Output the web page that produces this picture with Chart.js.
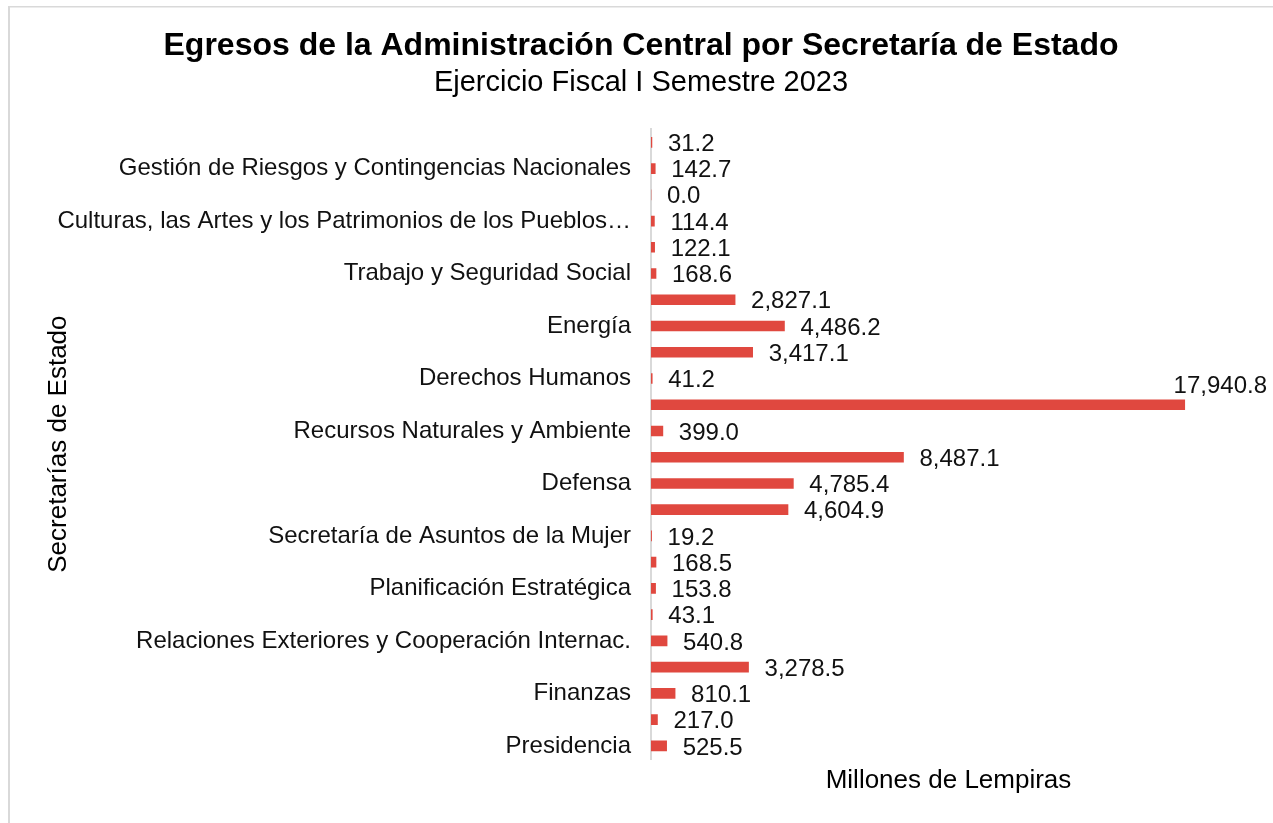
<!DOCTYPE html>
<html>
<head>
<meta charset="utf-8">
<script src="https://cdn.jsdelivr.net/npm/chart.js@4"></script>
<style>
  html, body { margin: 0; padding: 0; background: #fff; }
  #wrap { width: 1273px; height: 823px; position: relative; }
</style>
</head>
<body>
<div id="wrap"><canvas id="c" width="1273" height="823"></canvas></div>
<script>
// Categories listed top to bottom (only every other one is labelled in the source)
const categories = [
  '', 'Gestión de Riesgos y Contingencias Nacionales',
  '', 'Culturas, las Artes y los Patrimonios de los Pueblos…',
  '', 'Trabajo y Seguridad Social',
  '', 'Energía',
  '', 'Derechos Humanos',
  '', 'Recursos Naturales y Ambiente',
  '', 'Defensa',
  '', 'Secretaría de Asuntos de la Mujer',
  '', 'Planificación Estratégica',
  '', 'Relaciones Exteriores y Cooperación Internac.',
  '', 'Finanzas',
  '', 'Presidencia'
];
const values = [
  31.2, 142.7,
  0.0, 114.4,
  122.1, 168.6,
  2827.1, 4486.2,
  3417.1, 41.2,
  17940.8, 399.0,
  8487.1, 4785.4,
  4604.9, 19.2,
  168.5, 153.8,
  43.1, 540.8,
  3278.5, 810.1,
  217.0, 525.5
];
const titleText = 'Egresos de la Administración Central por Secretaría de Estado';
const subtitleText = 'Ejercicio Fiscal I Semestre 2023';
const xTitle = 'Millones de Lempiras';
const yTitle = 'Secretarías de Estado';
const xMax = 20000;

const FONT = '"Liberation Sans", Arial, sans-serif';
const fmt = v => v.toLocaleString('en-US', {minimumFractionDigits: 1, maximumFractionDigits: 1});

const borderPlugin = {
  id: 'borderPlugin',
  beforeDraw(chart) {
    const ctx = chart.ctx;
    ctx.save();
    ctx.fillStyle = '#d9d9d9';
    ctx.fillRect(8, 6, chart.width - 8, 1.5);
    ctx.fillRect(8, 6, 2, chart.height - 6);
    ctx.restore();
  }
};

const labelPlugin = {
  id: 'labelPlugin',
  afterDatasetsDraw(chart) {
    const ctx = chart.ctx;
    const meta = chart.getDatasetMeta(0);
    ctx.save();
    ctx.font = '24px ' + FONT;
    ctx.fillStyle = '#111';
    ctx.textBaseline = 'middle';
    meta.data.forEach((bar, i) => {
      const t = fmt(values[i]);
      const w = ctx.measureText(t).width;
      const x = bar.x + 16;
      const y = bar.y + 2;
      if (x + w > chart.width - 4) {
        ctx.textAlign = 'right';
        ctx.fillText(t, chart.width - 6, bar.y - 18);
      } else {
        ctx.textAlign = 'left';
        ctx.fillText(t, x, y);
      }
    });
    ctx.restore();
  }
};

new Chart(document.getElementById('c'), {
  type: 'bar',
  data: {
    labels: categories,
    datasets: [{
      data: values,
      backgroundColor: '#E0483F',
      borderWidth: 0,
      barThickness: 10
    }]
  },
  options: {
    indexAxis: 'y',
    responsive: false,
    animation: false,
    layout: { padding: { left: 36, right: 27, top: 0, bottom: 0 } },
    plugins: {
      legend: { display: false },
      tooltip: { enabled: false },
      title: {
        display: true,
        text: titleText,
        color: '#000',
        font: { family: FONT, size: 32, weight: 'bold', lineHeight: 1.2 },
        padding: { top: 27, bottom: 0 }
      },
      subtitle: {
        display: true,
        text: subtitleText,
        color: '#000',
        font: { family: FONT, size: 29, weight: 'normal', lineHeight: 1.2 },
        padding: { top: 0, bottom: 29 }
      }
    },
    scales: {
      x: {
        min: 0,
        max: xMax,
        grid: { display: false, drawTicks: false },
        border: { display: false },
        ticks: { display: false },
        title: {
          display: true,
          text: xTitle,
          color: '#000',
          font: { family: FONT, size: 26, lineHeight: 1.2 },
          padding: { top: 0, bottom: 27 }
        },
        afterFit(scale) { scale.height = 64; }
      },
      y: {
        grid: { display: false, drawTicks: false },
        border: { display: true, color: '#d9d9d9', width: 2 },
        ticks: {
          autoSkip: false,
          color: '#111',
          padding: 20,
          font: { family: FONT, size: 24 }
        },
        title: {
          display: true,
          text: yTitle,
          color: '#000',
          font: { family: FONT, size: 26, lineHeight: 1.2 },
          padding: { top: 7, bottom: 0 }
        },
        afterFit(scale) { scale.width = 615; }
      }
    }
  },
  plugins: [borderPlugin, labelPlugin]
});
</script>
</body>
</html>
